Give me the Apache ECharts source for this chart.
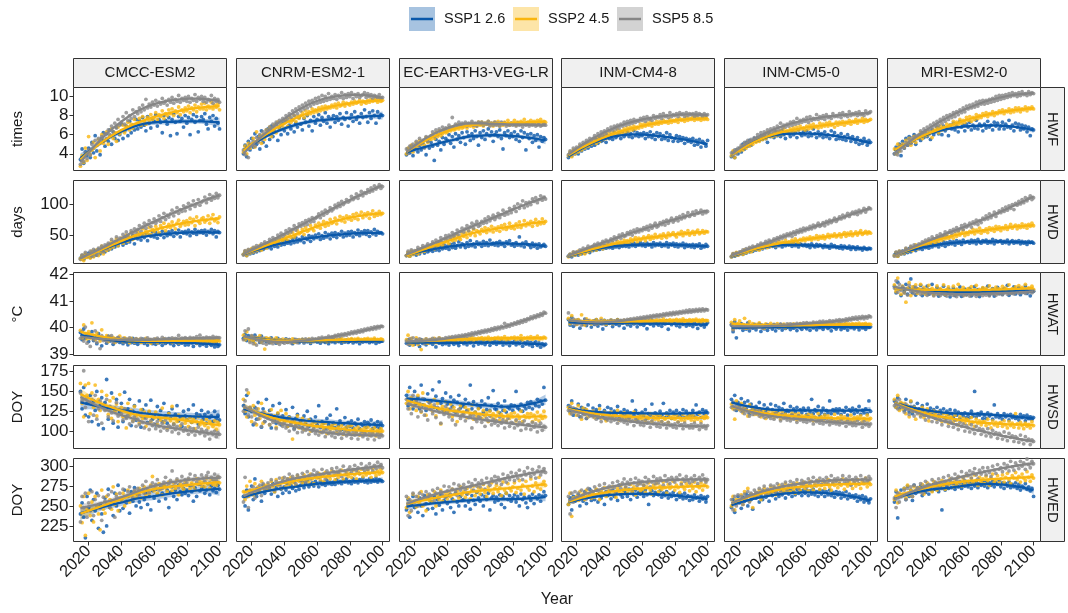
<!DOCTYPE html>
<html><head><meta charset="utf-8">
<script src="https://cdn.jsdelivr.net/npm/echarts@6.0.0/dist/echarts.min.js"></script>
<style>html,body{margin:0;padding:0;background:#fff}#main{width:1068px;height:613px}</style>
</head><body><div id="main"></div>
<script>
// ---------------- DATA ----------------
const years = [2015,2016,2017,2018,2019,2020,2021,2022,2023,2024,2025,2026,2027,2028,2029,2030,2031,2032,2033,2034,2035,2036,2037,2038,2039,2040,2041,2042,2043,2044,2045,2046,2047,2048,2049,2050,2051,2052,2053,2054,2055,2056,2057,2058,2059,2060,2061,2062,2063,2064,2065,2066,2067,2068,2069,2070,2071,2072,2073,2074,2075,2076,2077,2078,2079,2080,2081,2082,2083,2084,2085,2086,2087,2088,2089,2090,2091,2092,2093,2094,2095,2096,2097,2098,2099,2100];
const models = ['CMCC-ESM2','CNRM-ESM2-1','EC-EARTH3-VEG-LR','INM-CM4-8','INM-CM5-0','MRI-ESM2-0'];
const indices = ['HWF','HWD','HWAT','HWSD','HWED'];
const yTitles = ['times','days','°C','DOY','DOY'];
const scenarios = ['SSP1 2.6','SSP2 4.5','SSP5 8.5'];
const xTickValues = [2020,2040,2060,2080,2100];
const yTickValues = [[4,6,8,10],[50,100],[39,40,41,42],[100,125,150,175],[225,250,275,300]];
const yLimits = [[2.25,10.94],[5.3,138.7],[38.96,42.06],[78.1,182.6],[205.4,309.6]];

// HWF (times)
const hwf_cmcc_126 = [3.4,4.5,3.0,4.2,3.8, 4.6,3.6,5.2,4.1,5.9,4.3,5.1,3.9,5.6,6.2, 4.8,6.1,5.3,6.5,5.0,6.3,5.6,6.8,5.4,6.0, 7.1,5.6,6.4,6.9,5.9,7.4,6.2,7.0,6.5,7.6, 6.6,7.5,6.8,7.8,7.0,6.4,7.9,7.2,6.7,7.7, 7.4,8.1,6.9,7.6,7.3,6.2,8.0,7.5,7.1,7.8, 5.9,7.6,8.2,7.3,6.1,7.9,7.4,7.7,6.8,8.0, 7.2,7.8,6.0,7.6,8.1,7.3,7.9,6.3,7.5,7.9, 7.6,8.2,7.1,6.6,7.8,7.4,8.0,6.9,7.7,7.2, 6.6];
const hwf_cmcc_245 = [2.7,3.8,3.1,4.6,3.3, 5.8,3.9,4.4,5.2,3.6,4.9,5.5,4.3,6.0,5.1, 5.4,6.3,5.0,5.9,6.6,5.6,6.2,5.3,6.8,6.1, 6.4,7.0,6.2,6.9,7.3,6.5,7.1,6.7,7.6,7.0, 7.2,7.7,7.0,7.9,7.4,7.1,7.8,7.5,8.1,7.6, 7.8,8.3,7.6,8.1,7.9,8.5,7.7,8.2,8.0,8.6, 8.2,8.7,8.0,8.5,8.3,8.9,8.1,8.6,8.4,8.8, 8.5,9.0,8.3,8.8,8.6,9.1,8.4,8.9,8.7,9.2, 8.7,9.3,8.6,9.0,8.8,9.4,8.7,9.1,8.9,9.2, 8.6];
const hwf_cmcc_585 = [2.9,3.6,3.2,4.1,3.5, 4.4,3.9,5.0,4.6,5.4,4.9,5.6,5.1,5.8,5.3, 6.1,5.6,6.5,6.0,6.9,6.3,7.2,6.7,7.6,7.0, 7.3,7.9,7.1,8.3,7.5,8.0,7.7,8.6,7.9,8.4, 8.2,8.8,8.4,9.1,8.6,9.7,8.8,9.2,8.9,9.4, 9.1,9.6,9.0,9.4,9.2,9.8,9.3,9.5,9.1,9.7, 9.4,9.9,9.3,9.7,9.5,10.1,9.4,9.8,9.6,9.9, 9.5,10.0,9.4,9.8,9.6,10.2,9.5,9.9,9.7,10.0, 9.5,9.9,9.4,9.7,9.6,10.1,9.3,9.8,9.5,9.7, 9.4];
const hwf_cnrm_126 = [4.0,4.9,3.7,5.3,4.4, 5.6,4.7,6.1,5.0,5.8,4.5,6.4,5.2,6.0,4.8, 6.6,5.5,6.9,5.8,6.3,7.1,5.4,6.7,6.0,7.2, 6.4,7.4,6.1,7.0,6.6,7.6,6.3,7.2,6.8,7.8, 7.1,6.5,7.7,7.3,8.0,6.9,7.5,6.4,7.9,7.2, 7.6,8.1,7.0,7.8,7.4,8.3,7.2,7.9,6.8,7.7, 8.0,7.3,7.9,7.5,8.2,7.1,7.8,7.6,8.3,6.9, 7.7,8.1,7.4,8.4,7.6,7.9,7.2,8.2,7.8,8.6, 7.9,7.3,8.3,7.7,8.5,8.0,7.2,8.4,7.8,8.1, 8.0];
const hwf_cnrm_245 = [4.2,4.8,4.0,5.1,4.6, 5.0,5.6,4.7,6.3,5.3,5.9,5.1,6.0,5.5,6.5, 6.0,6.8,5.8,6.4,7.0,6.2,7.3,6.6,7.1,6.9, 7.2,7.6,6.9,7.8,7.3,7.5,8.0,7.4,7.9,7.7, 8.0,8.3,7.8,8.5,8.1,8.4,8.2,8.7,8.3,8.6, 8.4,8.8,8.5,8.9,8.6,9.0,8.7,8.9,8.8,9.1, 8.9,9.2,8.8,9.3,9.0,9.1,9.4,9.0,9.3,9.2, 9.1,9.4,9.2,9.5,9.3,9.4,9.6,9.2,9.5,9.4, 9.3,9.6,9.4,9.7,9.5,9.6,9.8,9.4,9.7,9.5, 9.6];
const hwf_cnrm_585 = [4.4,3.9,4.7,3.6,5.0, 4.9,5.3,4.8,5.7,5.2,6.0,5.5,6.3,5.8,6.5, 6.2,6.8,6.4,7.1,6.7,7.3,6.9,7.5,7.0,7.7, 7.4,8.0,7.6,8.2,7.8,8.5,8.0,8.7,8.2,8.9, 8.5,9.1,8.7,9.3,8.8,9.5,9.0,9.6,9.2,9.8, 9.3,9.9,9.4,10.1,9.5,10.0,9.6,10.3,9.7,10.0, 9.8,10.2,9.7,10.1,9.9,10.4,9.8,10.2,9.9,10.3, 10.0,10.4,9.8,10.2,10.0,10.3,9.9,10.1,10.2,10.4, 9.9,10.3,10.0,10.2,9.8,10.1,10.0,9.9,10.2,9.8, 9.9];
const hwf_ec_126 = [3.9,4.5,4.1,4.8,3.8, 4.6,5.0,4.2,4.9,4.4,5.1,4.7,3.9,5.3,4.6, 5.2,4.8,3.3,5.5,4.9,5.3,4.4,5.7,5.0,5.6, 5.4,6.0,5.1,5.8,4.7,6.1,5.5,5.9,5.2,6.2, 5.7,5.0,6.3,5.9,5.4,6.1,5.6,6.4,5.8,4.9, 6.2,5.7,6.4,5.5,6.1,6.6,5.9,6.3,5.3,6.0, 6.3,5.8,6.5,5.6,4.5,6.2,5.9,6.4,5.7,6.1, 5.8,6.3,5.5,6.0,5.3,6.4,5.7,6.2,4.4,6.0, 5.6,6.1,5.2,5.9,5.4,6.0,4.7,5.8,5.3,5.7, 5.5];
const hwf_ec_245 = [4.0,4.6,4.3,4.9,4.2, 4.8,5.2,4.6,5.4,5.0,5.3,4.9,5.7,5.2,5.6, 5.5,6.0,5.6,6.2,5.8,6.4,5.9,6.1,6.5,6.2, 6.3,6.7,6.4,6.8,6.5,6.6,7.0,6.6,6.9,6.7, 6.8,7.1,6.7,7.0,6.9,7.2,6.8,7.1,6.9,7.3, 7.0,7.3,6.9,7.2,7.1,7.4,7.0,7.2,6.9,7.3, 7.1,7.4,6.9,7.2,7.0,7.3,7.1,7.5,7.0,7.2, 7.2,7.5,7.0,7.3,7.1,7.4,7.2,7.6,7.1,7.3, 7.3,7.5,7.1,7.4,7.2,7.5,7.3,7.6,7.2,7.4, 7.3];
const hwf_ec_585 = [4.5,4.1,4.8,4.4,5.0, 4.7,5.3,4.9,5.6,5.1,5.4,4.6,5.8,5.3,5.7, 5.9,6.3,5.8,6.5,6.0,6.6,6.2,6.8,6.4,6.7, 6.6,7.0,6.7,7.8,6.8,7.1,6.9,7.3,7.0,7.2, 7.0,7.3,6.9,7.2,7.1,7.4,7.0,7.2,6.9,7.3, 7.1,7.3,7.0,7.2,7.1,7.4,6.9,7.2,7.0,7.3, 7.0,7.2,6.9,7.3,7.1,7.2,6.9,7.1,7.0,7.2, 7.0,7.1,6.9,7.2,7.0,7.1,6.8,7.1,7.0,7.2, 6.9,7.1,7.0,7.2,6.9,7.0,7.1,6.9,7.0,7.1, 7.0];
const hwf_inm4_126 = [3.6,4.1,3.8,4.3,4.0, 4.4,4.0,4.7,4.3,4.9,4.5,5.1,4.6,5.0,4.8, 5.2,4.9,5.5,5.1,5.7,5.3,5.4,5.8,5.2,5.9, 5.6,6.0,5.5,6.2,5.7,5.9,6.1,5.6,6.3,5.8, 6.0,6.3,5.8,6.1,5.7,6.4,5.9,6.2,5.8,6.1, 5.9,6.2,5.6,6.1,5.8,6.3,5.7,6.0,5.5,6.2, 5.8,6.1,5.5,5.9,5.6,6.2,5.4,6.0,5.7,5.3, 5.6,5.9,5.3,5.8,5.4,5.7,5.1,5.6,5.3,5.5, 5.2,5.6,4.9,5.4,5.0,5.5,4.7,5.3,5.1,4.8, 5.4];
const hwf_inm4_245 = [3.8,4.2,3.7,4.4,4.0, 4.5,4.2,4.8,4.4,4.9,4.6,5.1,4.8,5.3,5.0, 5.2,5.5,5.1,5.7,5.3,5.8,5.5,6.0,5.6,6.1, 5.8,6.2,5.9,6.3,6.0,6.5,6.1,6.4,6.2,6.6, 6.3,6.7,6.4,6.8,6.5,6.9,6.6,6.8,6.7,7.1, 6.8,7.1,6.9,7.2,7.0,7.3,6.9,7.2,7.1,7.4, 7.1,7.4,7.2,7.5,7.3,7.4,7.2,7.6,7.3,7.5, 7.4,7.6,7.3,7.7,7.5,7.6,7.4,7.8,7.5,7.7, 7.6,7.8,7.5,7.9,7.6,7.7,7.5,7.9,7.6,7.8, 7.6];
const hwf_inm4_585 = [3.9,4.3,4.0,4.6,4.2, 4.7,4.4,5.0,4.7,5.2,4.9,5.4,5.1,5.6,5.3, 5.6,5.9,5.5,6.1,5.8,6.3,5.9,6.4,6.1,6.6, 6.4,6.8,6.5,6.9,6.6,7.0,6.7,7.1,6.9,7.3, 7.0,7.4,7.1,7.5,7.2,7.6,7.3,7.5,7.4,7.7, 7.5,7.8,7.4,7.9,7.6,7.7,7.5,8.0,7.7,7.9, 7.8,8.1,7.7,8.2,7.9,8.0,7.8,8.3,7.9,8.1, 8.0,8.2,7.9,8.3,8.1,8.2,7.9,8.3,8.0,8.2, 8.1,8.2,7.9,8.3,8.0,8.2,8.1,7.9,8.2,8.0, 8.1];
const hwf_inm5_126 = [3.7,4.2,3.6,4.4,4.0, 4.6,4.2,5.0,4.5,5.2,4.8,5.4,4.9,5.3,5.6, 5.3,5.7,5.4,5.9,5.5,6.0,5.6,5.2,6.1,5.8, 6.0,5.7,6.3,5.9,6.2,5.8,6.4,6.0,5.6,6.3, 6.1,5.8,6.4,6.0,6.2,5.7,6.5,6.1,5.9,6.3, 6.0,6.4,5.8,6.2,5.9,6.6,6.1,5.7,6.3,5.9, 6.1,5.7,6.3,5.8,6.0,5.6,6.4,5.9,6.2,5.5, 5.9,5.6,6.1,5.5,5.8,5.4,6.0,5.7,5.3,5.8, 5.5,5.2,5.7,5.0,5.4,5.1,5.6,5.3,4.9,5.4, 5.2];
const hwf_inm5_245 = [3.8,4.3,3.6,4.1,4.4, 4.3,4.7,4.4,4.9,4.6,5.1,4.8,5.3,5.0,5.4, 5.2,5.6,5.3,5.8,5.5,5.9,5.6,6.2,5.8,6.0, 5.8,6.2,5.9,6.3,6.0,6.4,6.1,6.6,6.2,6.4, 6.2,6.6,6.3,6.7,6.4,6.8,6.5,6.9,6.6,6.7, 6.5,6.9,6.6,7.0,6.7,7.1,6.8,6.9,6.7,7.2, 6.8,7.1,6.9,7.2,6.9,7.3,7.0,7.1,6.8,7.3, 7.0,7.3,7.1,7.4,7.0,7.3,7.2,7.5,7.1,7.4, 7.3,7.6,7.2,7.5,7.4,7.7,7.3,7.6,7.4,7.5, 7.6];
const hwf_inm5_585 = [4.1,3.8,4.4,4.0,4.6, 4.5,4.9,4.6,5.2,4.8,5.4,5.0,5.5,5.3,5.7, 5.5,6.0,5.7,6.2,5.9,6.3,6.0,6.5,6.2,6.6, 6.3,6.7,6.4,6.9,6.5,7.2,6.7,7.0,6.8,7.1, 6.9,7.3,7.0,7.4,7.1,7.7,7.2,7.5,7.3,7.6, 7.4,7.8,7.3,7.9,7.5,7.7,7.6,8.1,7.6,7.9, 7.7,8.0,7.6,8.1,7.8,7.9,7.7,8.2,7.9,8.0, 7.9,8.2,7.8,8.3,8.0,8.1,7.9,8.4,8.0,8.2, 8.1,8.3,8.0,8.4,8.1,8.2,8.0,8.5,8.2,8.3, 8.4];
const hwf_mri_126 = [4.0,4.7,4.2,5.0,3.8, 5.3,4.6,5.6,4.9,5.8,5.1,5.4,6.0,5.0,5.7, 5.9,5.4,6.2,5.7,6.4,5.8,6.1,5.5,6.5,6.0, 6.3,6.8,6.1,6.6,6.0,6.9,6.4,6.7,5.9,7.0, 6.6,7.2,6.5,6.9,6.3,7.4,6.8,7.0,6.4,7.1, 6.8,7.3,6.5,7.0,6.7,7.5,6.6,7.1,6.9,6.4, 7.1,6.7,7.4,6.8,7.0,6.5,7.3,6.9,7.2,6.6, 6.9,7.3,6.6,7.1,6.8,7.5,6.7,7.0,6.4,7.2, 6.8,7.1,6.5,7.0,6.6,6.9,6.3,6.8,5.9,6.6, 6.5];
const hwf_mri_245 = [4.5,4.0,5.0,4.3,4.8, 5.0,4.7,5.4,5.1,5.6,4.9,5.3,5.8,5.2,5.7, 5.8,6.2,5.6,6.1,5.9,6.4,6.0,6.3,5.7,6.5, 6.4,6.7,6.2,6.9,6.5,6.8,6.6,7.1,6.7,7.0, 7.0,7.4,6.9,7.3,7.1,7.6,7.2,7.5,7.3,7.8, 7.5,7.9,7.4,7.8,7.6,8.1,7.7,8.0,7.8,8.2, 8.0,8.3,7.9,8.2,8.1,8.4,8.0,8.3,8.2,8.5, 8.3,8.6,8.2,8.5,8.4,8.7,8.3,8.6,8.4,8.8, 8.5,8.8,8.4,8.7,8.6,8.9,8.5,8.8,8.7,8.9, 8.7];
const hwf_mri_585 = [4.0,4.5,3.9,4.7,4.3, 4.9,4.6,5.2,4.9,5.5,5.1,5.7,5.4,5.9,5.6, 6.0,6.4,6.1,6.6,6.2,6.8,6.5,7.0,6.7,7.2, 6.9,7.4,7.0,7.6,7.2,7.8,7.4,8.0,7.6,8.1, 7.8,8.3,7.9,8.4,8.1,8.6,8.3,8.8,8.4,9.0, 8.7,9.1,8.8,9.2,8.9,9.4,9.0,9.5,9.2,9.6, 9.2,9.6,9.3,9.7,9.4,9.8,9.5,10.0,9.6,10.1, 9.7,10.1,9.8,10.2,9.9,10.3,10.0,10.4,10.1,10.3, 10.0,10.4,10.1,10.5,10.2,10.3,10.1,10.5,10.2,10.4, 10.3];

// HWD (days)
const hwd_cmcc_126 = [14,18,12,20,16, 22,15,24,17,26,19,28,21,25,30, 24,33,27,36,29,38,32,41,34,39, 43,35,46,38,48,40,44,50,37,47, 45,52,43,50,47,54,42,51,49,56, 48,55,46,53,51,57,47,54,50,56, 52,58,49,55,53,59,48,56,54,57, 53,59,50,56,54,60,52,57,55,58, 54,59,51,57,55,60,53,58,48,57, 55];
const hwd_cmcc_245 = [13,18,10,21,15, 19,14,25,16,22,27,18,24,33,21, 30,26,36,29,41,32,38,45,34,40, 46,38,43,51,41,48,55,44,50,47, 56,49,53,61,50,58,54,63,52,60, 57,65,60,55,66,62,70,58,64,68, 63,72,66,61,70,75,65,69,73,67, 74,68,78,71,76,66,80,73,70,77, 79,72,75,82,70,78,84,74,77,71, 80];
const hwd_cmcc_585 = [12,19,14,23,17, 20,25,17,28,22,19,30,26,33,24, 35,29,38,33,44,36,41,48,39,46, 44,52,47,56,49,45,58,53,61,55, 60,66,57,64,70,62,68,74,65,71, 77,70,74,82,73,79,86,76,83,80, 85,91,82,88,95,86,92,89,98,90, 96,102,93,99,106,97,101,108,99,104, 106,112,103,109,116,107,113,110,118,111, 115];
const hwd_cnrm_126 = [20,24,18,25,21, 27,22,29,24,31,26,33,28,30,35, 31,37,29,36,33,40,32,38,35,42, 36,43,38,41,37,45,39,47,40,44, 42,48,39,46,44,50,41,49,45,51, 47,53,44,50,46,55,48,52,45,54, 49,55,47,53,51,57,48,54,50,56, 51,57,48,55,52,59,50,56,53,58, 52,58,49,56,53,60,51,57,54,55, 53];
const hwd_cnrm_245 = [20,25,18,27,22, 29,24,31,26,28,34,27,32,36,30, 33,38,35,41,36,39,44,37,46,42, 45,49,43,52,47,55,48,51,58,53, 55,60,52,63,57,59,66,61,58,67, 64,70,62,68,73,65,71,67,76,70, 72,78,69,75,81,74,79,72,82,77, 80,75,84,78,86,76,83,88,79,85, 82,87,78,85,90,81,86,83,89,84, 86];
const hwd_cnrm_585 = [19,26,21,28,23, 27,31,25,34,29,33,37,30,40,35, 38,44,40,47,42,45,51,46,54,49, 52,58,54,61,56,60,66,59,63,69, 65,71,67,74,68,76,72,79,73,78, 80,85,79,88,83,91,86,89,95,90, 93,99,95,102,97,105,100,103,108,104, 106,113,108,111,117,110,115,121,114,119, 118,124,120,127,122,130,125,128,132,126, 129];
const hwd_ec_126 = [18,22,17,24,20, 23,19,27,21,25,30,22,28,24,26, 29,25,31,27,34,26,32,29,35,30, 33,28,36,31,38,30,34,40,32,37, 35,31,39,33,42,34,37,32,40,36, 38,33,41,35,39,34,43,36,38,35, 39,34,41,36,38,33,40,37,42,35, 37,33,39,35,48,34,38,32,40,36, 35,31,38,33,36,30,37,32,34,36, 33];
const hwd_ec_245 = [18,23,17,25,20, 22,26,21,28,24,30,25,27,33,28, 30,35,29,38,33,36,41,34,39,44, 40,37,45,42,48,43,51,46,44,53, 49,54,47,57,51,55,60,50,58,56, 53,60,57,63,55,61,58,65,56,62, 59,64,57,66,61,68,60,63,70,62, 65,61,69,64,72,63,67,74,66,70, 68,73,65,71,76,67,72,69,77,70, 73];
const hwd_ec_585 = [18,25,20,27,22, 26,23,31,25,29,34,27,33,37,31, 35,40,33,43,38,41,47,39,45,50, 44,51,47,55,49,53,59,51,57,62, 56,61,66,58,64,70,62,68,73,65, 67,73,70,77,71,80,74,78,83,76, 80,86,79,84,91,83,88,85,94,87, 92,97,89,101,94,99,106,95,103,98, 104,100,109,105,111,103,108,114,107,112, 109];
const hwd_inm4_126 = [17,20,16,21,19, 22,19,24,21,26,22,25,27,23,28, 26,30,27,32,28,31,29,33,30,34, 31,35,30,34,32,36,31,35,33,37, 33,36,32,37,34,38,33,36,35,39, 34,37,33,38,35,36,32,39,34,37, 35,38,33,36,34,39,32,37,35,38, 33,37,32,36,34,38,31,36,33,35, 32,36,31,35,33,37,30,34,32,36, 33];
const hwd_inm4_245 = [16,20,18,23,19, 22,25,20,26,23,21,28,24,30,26, 28,31,27,33,30,35,29,34,32,37, 33,36,39,34,38,41,35,40,37,43, 39,42,38,45,41,44,47,40,46,43, 45,48,42,47,50,44,49,46,52,47, 48,51,46,53,49,47,54,50,52,55, 51,48,54,52,57,50,55,53,58,51, 54,57,52,56,59,53,55,58,54,57, 56];
const hwd_inm4_585 = [17,20,18,24,21, 24,22,27,25,30,26,29,33,28,32, 33,36,32,38,35,37,41,36,43,40, 41,45,42,48,44,47,51,46,53,49, 50,55,52,57,51,59,55,61,56,60, 58,63,60,65,59,67,62,66,70,64, 66,71,68,73,67,75,70,74,78,72, 75,79,74,81,77,84,79,82,87,81, 84,88,83,90,86,87,91,85,89,87, 89];
const hwd_inm5_126 = [16,20,17,22,19, 21,24,20,26,22,27,24,28,25,30, 27,31,28,33,29,34,31,35,32,36, 33,35,31,37,34,36,32,38,34,36, 35,37,33,38,34,36,32,37,35,34, 36,33,35,31,37,34,32,36,33,35, 34,31,35,32,33,30,36,32,34,31, 32,30,34,29,33,31,30,33,28,32, 31,28,32,29,30,27,31,29,28,30, 29];
const hwd_inm5_245 = [16,21,18,23,19, 21,24,20,27,23,25,29,24,27,31, 28,32,27,34,30,33,36,31,35,33, 36,39,34,38,41,36,40,37,43,38, 40,37,43,39,45,41,38,44,42,46, 42,46,44,48,43,47,45,50,44,49, 46,50,45,48,52,47,51,49,53,48, 50,53,48,52,55,49,54,51,56,50, 53,56,51,55,58,52,54,57,53,56, 54];
const hwd_inm5_585 = [17,21,19,22,20, 24,22,27,25,29,27,31,28,33,30, 32,35,33,38,34,37,41,36,43,40, 41,45,42,47,44,49,46,51,48,53, 50,54,49,56,52,58,55,60,56,62, 58,62,60,65,61,67,63,66,70,65, 67,71,66,73,69,75,71,74,78,73, 76,80,77,83,79,82,86,81,85,88, 85,89,84,91,87,90,94,88,92,95, 93];
const hwd_mri_126 = [19,23,17,24,21, 25,21,27,23,29,24,28,31,26,30, 29,33,28,35,31,34,30,37,32,36, 34,38,32,37,35,40,33,39,36,41, 37,40,35,42,38,41,36,43,39,40, 41,38,43,39,42,37,44,40,38,42, 40,43,38,41,39,44,37,42,40,41, 42,38,41,39,43,37,40,42,38,41, 39,42,37,41,38,40,36,41,39,40, 38];
const hwd_mri_245 = [18,23,17,25,21, 24,22,29,25,27,32,26,30,35,29, 31,36,33,39,34,37,42,36,41,45, 38,44,41,47,43,49,45,51,46,48, 50,46,53,49,56,51,54,58,50,55, 52,57,55,60,53,59,56,62,54,58, 57,61,55,63,59,62,57,65,60,64, 58,63,61,66,60,64,68,62,65,67, 61,66,63,69,64,67,62,68,65,70, 66];
const hwd_mri_585 = [17,23,19,25,21, 25,23,30,26,28,33,29,35,31,34, 37,33,40,36,43,39,45,41,48,44, 45,50,47,53,48,51,56,49,55,58, 54,60,57,63,58,61,66,60,68,64, 66,70,64,72,69,75,68,74,71,78, 76,82,77,85,79,83,88,81,86,90, 87,93,89,96,91,98,94,100,92,102, 99,105,101,108,103,111,106,110,114,108, 111];

// HWAT (°C)
const hwat_cmcc_126 = [39.82,39.55,39.95,39.60,39.74, 39.48,39.70,39.85,39.52,39.66,39.40,39.78,39.58,39.32,39.63, 39.55,39.42,39.68,39.50,39.60,39.38,39.57,39.48,39.62,39.45, 39.52,39.40,39.58,39.46,39.36,39.55,39.44,39.60,39.42,39.50, 39.38,39.53,39.45,39.57,39.41,39.49,39.35,39.54,39.46,39.40, 39.50,39.38,39.55,39.43,39.48,39.34,39.52,39.41,39.47,39.58, 39.40,39.49,39.33,39.52,39.44,39.38,39.55,39.42,39.46,39.35, 39.48,39.36,39.52,39.43,39.30,39.50,39.41,39.46,39.33,39.49, 39.38,39.45,39.31,39.48,39.40,39.34,39.46,39.28,39.42,39.30, 39.36];
const hwat_cmcc_245 = [39.90,39.62,40.10,39.70,39.58, 39.85,39.60,40.18,39.72,39.55,39.80,39.66,39.50,39.92,39.62, 39.58,39.70,39.48,39.66,39.55,39.63,39.45,39.60,39.52,39.68, 39.55,39.48,39.62,39.50,39.57,39.44,39.60,39.52,39.47,39.58, 39.50,39.56,39.45,39.53,39.48,39.60,39.46,39.55,39.42,39.52, 39.48,39.57,39.44,39.53,39.50,39.46,39.58,39.47,39.54,39.49, 39.53,39.45,39.57,39.48,39.52,39.44,39.56,39.50,39.46,39.55, 39.49,39.54,39.45,39.58,39.47,39.52,39.43,39.56,39.50,39.53, 39.48,39.55,39.46,39.52,39.50,39.57,39.44,39.53,39.49,39.55, 39.50];
const hwat_cmcc_585 = [39.60,39.85,39.50,40.02,39.42, 39.75,39.30,39.68,39.55,39.88,39.45,39.62,39.22,39.70,39.52, 39.60,39.48,39.66,39.54,39.70,39.45,39.58,39.50,39.64,39.56, 39.52,39.60,39.47,39.57,39.53,39.62,39.49,39.55,39.51,39.59, 39.54,39.48,39.60,39.52,39.57,39.50,39.62,39.53,39.56,39.49, 39.58,39.52,39.61,39.55,39.50,39.64,39.54,39.59,39.52,39.60, 39.56,39.62,39.53,39.60,39.57,39.71,39.55,39.61,39.58,39.63, 39.59,39.55,39.64,39.57,39.62,39.54,39.66,39.58,39.72,39.60, 39.62,39.57,39.65,39.60,39.63,39.56,39.67,39.59,39.64,39.61, 39.62];
const hwat_cnrm_126 = [39.60,39.75,39.52,39.70,39.58, 39.66,39.50,39.72,39.55,39.62,39.45,39.68,39.53,39.60,39.48, 39.57,39.44,39.62,39.50,39.55,39.42,39.60,39.48,39.53,39.46, 39.52,39.58,39.45,39.55,39.49,39.40,39.56,39.47,39.53,39.44, 39.50,39.56,39.43,39.52,39.47,39.55,39.41,39.51,39.48,39.54, 39.46,39.52,39.42,39.55,39.49,39.45,39.53,39.40,39.50,39.47, 39.54,39.44,39.51,39.48,39.56,39.42,39.50,39.46,39.53,39.45, 39.49,39.55,39.43,39.51,39.47,39.54,39.40,39.50,39.46,39.52, 39.48,39.53,39.44,39.50,39.47,39.55,39.41,39.51,39.46,39.49, 39.50];
const hwat_cnrm_245 = [39.72,39.55,39.85,39.60,39.50, 39.68,39.52,39.40,39.63,39.55,39.70,39.46,39.58,39.20,39.62, 39.52,39.60,39.45,39.56,39.50,39.62,39.44,39.54,39.48,39.57, 39.50,39.55,39.46,39.53,39.49,39.58,39.45,39.52,39.47,39.55, 39.51,39.56,39.48,39.54,39.50,39.57,39.47,39.53,39.49,39.55, 39.52,39.57,39.49,39.55,39.51,39.58,39.48,39.54,39.50,39.56, 39.53,39.58,39.50,39.56,39.52,39.59,39.49,39.55,39.51,39.57, 39.54,39.59,39.51,39.57,39.53,39.60,39.50,39.56,39.52,39.58, 39.55,39.60,39.52,39.57,39.54,39.61,39.51,39.56,39.53,39.58, 39.55];
const hwat_cnrm_585 = [39.55,39.88,39.62,39.95,39.45, 39.70,39.40,39.65,39.35,39.58,39.48,39.62,39.42,39.55,39.38, 39.50,39.44,39.56,39.40,39.52,39.45,39.48,39.38,39.53,39.46, 39.42,39.52,39.46,39.55,39.43,39.50,39.48,39.56,39.44,39.53, 39.50,39.55,39.47,39.58,39.51,39.56,39.49,39.60,39.53,39.58, 39.55,39.62,39.57,39.65,39.58,39.63,39.60,39.68,39.62,39.66, 39.64,39.71,39.66,39.74,39.68,39.76,39.70,39.78,39.72,39.80, 39.76,39.84,39.78,39.86,39.80,39.89,39.83,39.92,39.85,39.94, 39.90,39.97,39.92,40.00,39.94,40.03,39.96,40.05,39.99,40.06, 40.04];
const hwat_ec_126 = [39.42,39.55,39.35,39.50,39.44, 39.38,39.52,39.46,39.30,39.55,39.41,39.48,39.36,39.50,39.43, 39.52,39.38,39.47,39.28,39.50,39.42,39.55,39.37,39.46,39.40, 39.48,39.35,39.52,39.44,39.38,39.50,39.42,39.33,39.47,39.51, 39.40,39.46,39.36,39.52,39.43,39.48,39.32,39.45,39.50,39.39, 39.47,39.41,39.53,39.37,39.45,39.49,39.34,39.46,39.42,39.51, 39.38,39.47,39.43,39.52,39.35,39.46,39.40,39.49,39.33,39.45, 39.42,39.50,39.36,39.46,39.40,39.53,39.31,39.44,39.39,39.48, 39.36,39.45,39.30,39.42,39.47,39.34,39.43,39.27,39.40,39.33, 39.38];
const hwat_ec_245 = [39.55,39.72,39.40,39.60,39.35, 39.48,39.62,39.38,39.55,39.18,39.52,39.45,39.58,39.42,39.50, 39.56,39.47,39.60,39.44,39.53,39.62,39.49,39.57,39.46,39.55, 39.58,39.50,39.63,39.52,39.56,39.48,39.61,39.55,39.59,39.51, 39.57,39.62,39.53,39.60,39.55,39.64,39.52,39.59,39.56,39.61, 39.58,39.63,39.55,39.61,39.57,39.65,39.54,39.60,39.58,39.62, 39.59,39.64,39.56,39.62,39.58,39.66,39.55,39.61,39.57,39.63, 39.60,39.65,39.56,39.63,39.58,39.70,39.55,39.62,39.59,39.64, 39.58,39.66,39.57,39.63,39.60,39.68,39.56,39.62,39.59,39.65, 39.61];
const hwat_ec_585 = [39.50,39.38,39.58,39.44,39.62, 39.46,39.55,39.42,39.58,39.48,39.53,39.40,39.57,39.50,39.55, 39.52,39.60,39.48,39.57,39.53,39.61,39.50,39.58,39.55,39.63, 39.57,39.65,39.58,39.66,39.60,39.68,39.62,39.70,39.64,39.72, 39.66,39.74,39.68,39.77,39.71,39.80,39.73,39.82,39.76,39.85, 39.79,39.88,39.82,39.91,39.84,39.93,39.87,39.96,39.90,40.00, 39.93,40.02,39.96,40.05,39.99,40.16,40.02,40.10,40.05,40.14, 40.10,40.18,40.13,40.22,40.16,40.26,40.20,40.30,40.24,40.34, 40.30,40.40,40.34,40.44,40.38,40.48,40.42,40.52,40.46,40.58, 40.54];
const hwat_inm4_126 = [40.30,40.10,40.38,40.05,40.22, 40.15,40.28,39.98,40.22,40.12,40.32,40.08,40.25,40.18,40.02, 40.24,40.12,40.30,40.06,40.20,40.15,39.95,40.27,40.10,40.22, 40.16,40.28,40.04,40.21,40.13,40.30,40.08,40.24,40.17,39.98, 40.22,40.11,40.27,40.06,40.19,40.14,40.29,40.03,40.20,40.12, 40.25,40.09,40.18,39.96,40.22,40.13,40.27,40.07,40.19,40.15, 40.10,40.24,40.05,40.20,40.14,40.26,39.94,40.18,40.11,40.22, 40.16,40.08,40.23,40.03,40.19,40.12,40.25,40.06,40.17,40.10, 40.21,40.04,40.18,40.12,39.97,40.20,40.09,40.15,40.02,40.13, 40.18];
const hwat_inm4_245 = [40.35,40.15,40.45,40.20,40.28, 40.12,40.30,40.18,40.48,40.22,40.10,40.33,40.20,40.27,40.14, 40.25,40.18,40.30,40.16,40.23,40.35,40.19,40.26,40.13,40.24, 40.20,40.28,40.15,40.25,40.21,40.30,40.17,40.24,40.19,40.27, 40.22,40.16,40.29,40.20,40.25,40.18,40.31,40.21,40.26,40.19, 40.24,40.30,40.20,40.27,40.22,40.32,40.21,40.26,40.23,40.29, 40.21,40.28,40.24,40.33,40.22,40.27,40.25,40.30,40.20,40.28, 40.26,40.31,40.22,40.29,40.24,40.33,40.23,40.27,40.25,40.30, 40.22,40.29,40.26,40.32,40.24,40.28,40.21,40.30,40.25,40.27, 40.26];
const hwat_inm4_585 = [40.55,40.25,40.18,40.32,40.12, 40.28,40.15,40.24,40.10,40.22,40.30,40.14,40.26,40.18,40.21, 40.16,40.25,40.12,40.23,40.19,40.27,40.14,40.22,40.18,40.24, 40.20,40.26,40.17,40.25,40.21,40.28,40.19,40.27,40.23,40.29, 40.24,40.31,40.26,40.33,40.27,40.35,40.29,40.36,40.31,40.38, 40.33,40.40,40.35,40.42,40.36,40.44,40.38,40.46,40.40,40.48, 40.41,40.49,40.43,40.51,40.45,40.53,40.47,40.55,40.48,40.57, 40.50,40.58,40.52,40.60,40.54,40.62,40.56,40.64,40.57,40.66, 40.58,40.66,40.60,40.68,40.61,40.69,40.62,40.70,40.63,40.68, 40.66];
const hwat_inm5_126 = [40.10,39.85,40.22,39.62,40.08, 40.00,40.15,39.90,40.08,39.95,40.18,39.88,40.05,39.98,40.12, 39.92,40.06,40.14,39.86,40.03,39.96,40.10,39.90,40.02,40.08, 39.95,40.09,39.88,40.04,39.99,40.12,39.91,40.06,39.97,40.01, 40.07,39.93,40.11,39.98,40.04,39.89,40.08,40.00,39.94,40.10, 40.02,39.96,40.13,39.90,40.06,39.99,40.09,39.92,40.04,40.00, 40.08,39.94,40.05,40.11,39.97,40.03,39.88,40.07,40.01,39.95, 40.06,40.12,39.93,40.04,39.98,40.09,39.91,40.05,40.00,40.10, 39.96,40.07,40.02,39.92,40.08,39.99,40.04,39.94,40.06,40.01, 40.03];
const hwat_inm5_245 = [40.20,39.95,40.30,40.05,40.15, 40.25,40.02,40.12,40.35,39.98,40.10,40.22,40.04,40.15,40.08, 40.12,40.03,40.18,40.06,40.10,39.98,40.14,40.05,40.09,40.16, 40.04,40.11,40.07,40.15,40.02,40.10,40.06,40.13,40.00,40.09, 40.12,40.05,40.09,40.14,40.03,40.10,40.07,40.15,40.04,40.11, 40.08,40.13,40.05,40.11,40.09,40.16,40.06,40.12,40.08,40.14, 40.07,40.12,40.10,40.17,40.06,40.13,40.09,40.15,40.08,40.12, 40.10,40.16,40.07,40.13,40.11,40.18,40.08,40.14,40.10,40.15, 40.09,40.15,40.11,40.17,40.08,40.14,40.12,40.16,40.10,40.13, 40.12];
const hwat_inm5_585 = [40.12,39.92,40.15,40.00,40.08, 40.03,40.10,39.98,40.08,40.01,40.12,39.97,40.06,40.02,40.09, 40.00,40.08,40.03,40.10,39.98,40.07,40.04,40.11,40.01,40.06, 40.05,40.12,40.03,40.09,40.06,40.13,40.04,40.10,40.07,40.14, 40.08,40.14,40.06,40.12,40.10,40.16,40.08,40.15,40.11,40.18, 40.12,40.19,40.11,40.17,40.14,40.21,40.13,40.20,40.16,40.23, 40.17,40.24,40.16,40.22,40.19,40.26,40.18,40.25,40.21,40.28, 40.23,40.30,40.22,40.29,40.25,40.33,40.27,40.35,40.29,40.37, 40.32,40.39,40.31,40.40,40.34,40.42,40.33,40.41,40.36,40.44, 40.40];
const hwat_mri_126 = [41.55,41.30,41.70,41.45,41.20, 41.50,41.35,41.62,41.25,41.48,41.82,41.30,41.52,41.22,41.45, 41.38,41.58,41.20,41.44,41.30,41.55,41.25,41.40,41.62,41.28, 41.35,41.50,41.18,41.42,41.28,41.55,41.22,41.38,41.46,41.15, 41.33,41.48,41.20,41.40,41.26,41.52,41.17,41.36,41.44,41.24, 41.30,41.47,41.19,41.38,41.53,41.25,41.42,41.16,41.35,41.48, 41.28,41.40,41.55,41.22,41.37,41.46,41.18,41.34,41.50,41.27, 41.39,41.24,41.47,41.33,41.58,41.21,41.41,41.30,41.52,41.26, 41.38,41.49,41.23,41.42,41.33,41.56,41.28,41.45,41.19,41.40, 41.36];
const hwat_mri_245 = [41.60,41.35,41.85,41.42,41.25, 41.55,41.30,40.95,41.48,41.68,41.20,41.52,41.38,41.60,41.28, 41.45,41.62,41.30,41.50,41.25,41.44,41.58,41.33,41.47,41.22, 41.40,41.56,41.28,41.46,41.35,41.60,41.24,41.42,41.52,41.30, 41.37,41.55,41.26,41.44,41.62,41.31,41.40,41.50,41.23,41.38, 41.46,41.29,41.53,41.35,41.41,41.58,41.27,41.43,41.34,41.49, 41.32,41.47,41.38,41.56,41.30,41.44,41.36,41.51,41.29,41.45, 41.39,41.54,41.33,41.48,41.42,41.60,41.31,41.46,41.37,41.52, 41.41,41.57,41.35,41.50,41.44,41.62,41.38,41.48,41.40,41.55, 41.43];
const hwat_mri_585 = [41.48,41.75,41.32,41.62,41.40, 41.52,41.30,41.45,41.22,41.58,41.35,41.42,41.28,41.50,41.33, 41.38,41.25,41.44,41.30,41.36,41.21,41.41,41.27,41.35,41.19, 41.32,41.24,41.39,41.20,41.31,41.26,41.36,41.18,41.29,41.23, 41.33,41.21,41.28,41.16,41.30,41.25,41.35,41.19,41.27,41.22, 41.31,41.18,41.26,41.23,41.34,41.17,41.29,41.24,41.32,41.20, 41.28,41.22,41.35,41.19,41.30,41.26,41.33,41.21,41.31,41.27, 41.34,41.23,41.30,41.37,41.25,41.32,41.28,41.38,41.26,41.33, 41.36,41.29,41.40,41.31,41.35,41.28,41.39,41.33,41.37,41.30, 41.36];

// HWSD (DOY)
const hwsd_cmcc_126 = [150,128,155,120,135, 118,145,112,138,126,150,108,132,142,103, 136,165,115,130,148,110,127,140,105,124, 135,112,149,118,128,140,107,125,132,114, 122,138,105,127,117,133,111,124,139,115, 120,108,131,116,126,112,135,119,110,123, 116,128,109,121,132,113,118,106,125,119, 114,127,118,111,133,117,122,109,120,126, 115,121,110,124,117,119,112,125,116,120, 114];
const hwsd_cmcc_245 = [160,135,118,158,145, 160,122,148,130,158,119,140,126,150,132, 128,145,121,138,116,142,125,134,112,146, 130,118,128,104,135,120,126,113,131,119, 122,110,127,116,124,106,119,125,112,121, 117,124,108,120,114,129,111,118,104,122, 113,131,109,117,112,120,107,115,118,110, 114,106,117,111,115,103,112,118,108,113, 110,107,115,104,112,109,106,113,102,111, 108];
const hwsd_cmcc_585 = [148,138,176,130,142, 112,135,140,120,145,115,128,138,110,132, 126,140,118,131,123,113,129,136,119,127, 122,114,128,116,120,109,124,112,118,106, 115,108,119,111,104,116,110,102,113,107, 109,103,112,106,100,110,104,114,101,107, 105,99,108,102,106,97,103,109,100,104, 101,96,104,99,103,95,100,105,97,102, 99,94,101,97,90,98,96,100,93,98, 96];
const hwsd_cnrm_126 = [132,122,145,118,128, 125,108,130,115,136,120,105,128,112,140, 118,126,104,132,115,110,122,135,108,119, 114,127,106,118,111,130,103,116,121,109, 113,104,119,109,125,106,115,101,112,118, 108,132,105,112,110,103,116,108,120,106, 110,104,128,107,113,102,109,117,105,111, 106,113,104,110,108,115,103,109,107,112, 105,111,108,114,103,109,106,112,104,110, 107];
const hwsd_cnrm_245 = [140,125,118,148,130, 112,132,120,108,128,116,135,110,124,118, 121,108,127,114,119,105,123,111,126,109, 115,122,106,117,111,90,113,108,119,104, 110,116,102,112,107,114,100,109,105,111, 106,112,99,108,103,110,97,105,102,107, 103,109,98,105,101,107,96,104,100,106, 101,107,96,103,99,105,95,102,98,104, 100,105,95,102,98,104,94,101,97,103, 100];
const hwsd_cnrm_585 = [125,138,152,120,130, 118,125,110,128,115,121,106,124,112,119, 116,108,120,111,117,103,114,109,118,106, 111,104,115,100,108,112,102,107,98,110, 105,99,108,101,104,96,107,100,103,97, 101,95,104,98,100,93,102,97,99,94, 98,92,101,96,99,91,97,100,94,98, 97,91,99,95,98,90,96,99,93,97, 96,90,98,94,97,89,95,98,92,96, 94];
const hwsd_ec_126 = [145,132,155,138,128, 150,135,142,128,158,133,140,126,147,136, 138,152,130,144,128,162,135,141,125,148, 134,127,143,131,139,124,136,145,129,133, 131,140,126,135,158,128,137,124,133,129, 130,138,124,134,127,142,126,132,151,128, 127,135,123,131,126,138,124,130,128,133, 126,132,150,129,127,134,125,131,128,136, 130,137,128,135,132,140,131,138,134,155, 139];
const hwsd_ec_245 = [135,150,128,142,132, 140,126,145,131,124,148,133,120,138,129, 133,125,140,119,135,128,109,131,126,137, 128,122,134,118,130,125,112,127,132,120, 124,130,117,127,121,133,115,124,119,128, 121,116,126,119,123,112,125,118,122,115, 119,124,114,121,117,126,113,120,116,122, 118,123,113,120,116,125,112,119,117,122, 117,122,112,120,115,124,113,119,116,125, 118];
const hwsd_ec_585 = [140,128,135,122,145, 132,138,118,135,125,141,120,130,114,136, 128,122,133,117,130,124,110,127,121,131, 124,118,128,114,125,108,122,127,116,120, 121,113,125,117,119,104,120,115,112,118, 117,111,121,106,116,113,119,108,115,110, 113,107,118,110,114,104,112,116,106,111, 110,104,114,107,111,101,109,113,103,108, 108,102,111,105,109,99,107,110,101,106, 105];
const hwsd_inm4_126 = [132,124,138,120,128, 126,134,118,130,122,128,116,133,124,120, 129,121,127,117,132,123,119,126,115,130, 122,128,118,125,120,131,116,124,121,127, 119,125,117,123,138,120,126,115,122,118, 124,119,127,116,122,120,134,117,123,121, 118,125,120,135,117,123,119,126,116,124, 121,126,118,123,120,127,117,125,119,122, 120,126,118,133,121,124,117,127,122,125, 123];
const hwsd_inm4_245 = [130,122,135,125,128, 120,132,126,115,129,121,127,118,124,122, 125,117,123,119,128,116,121,124,113,122, 118,124,116,121,119,126,114,120,117,123, 116,121,114,119,117,124,113,118,116,120, 115,121,113,118,116,122,112,119,115,120, 114,120,112,117,115,121,111,118,116,119, 115,120,112,117,114,121,113,118,116,119, 114,120,113,117,115,122,112,118,116,119, 117];
const hwsd_inm4_585 = [126,131,122,129,124, 127,120,125,118,123,121,116,124,119,122, 118,123,115,120,117,112,121,116,119,114, 117,112,119,114,116,110,118,113,115,111, 114,109,116,112,113,107,115,111,112,108, 112,107,114,110,111,105,113,109,110,106, 110,105,112,108,109,104,111,107,108,105, 109,104,111,107,108,103,110,106,107,104, 108,104,110,106,107,102,109,105,107,103, 107];
const hwsd_inm5_126 = [140,130,145,126,136, 132,141,125,136,128,138,122,134,130,126, 131,124,136,127,121,133,126,129,119,134, 127,122,132,125,130,120,128,135,123,126, 125,131,121,128,124,130,119,127,123,129, 126,121,129,124,140,122,127,125,131,120, 124,129,121,126,123,138,122,127,125,128, 123,128,121,126,124,130,120,127,125,129, 122,127,124,131,121,126,123,128,122,138, 125];
const hwsd_inm5_245 = [134,128,115,138,130, 127,135,123,130,126,119,133,124,128,121, 125,121,128,118,124,127,116,122,126,119, 123,117,125,120,122,115,124,119,121,117, 120,116,123,118,121,114,122,117,119,115, 119,115,121,117,120,113,118,116,122,114, 118,114,120,116,119,112,117,115,121,113, 117,113,119,115,118,112,116,114,120,113, 117,113,118,115,119,112,116,114,120,114, 116];
const hwsd_inm5_585 = [130,136,127,133,128, 131,125,129,122,127,124,119,126,121,125, 122,127,119,124,120,117,123,118,121,116, 120,115,122,118,119,113,121,116,117,114, 118,113,120,115,117,111,119,114,116,112, 116,111,118,113,115,109,117,112,114,110, 114,109,116,111,113,108,115,110,112,109, 112,108,114,110,111,106,113,109,111,107, 111,107,113,109,110,105,112,108,110,106, 109];
const hwsd_mri_126 = [138,130,142,128,135, 133,126,140,129,124,137,122,131,127,135, 128,123,132,126,120,134,125,129,121,127, 124,130,119,126,122,128,117,125,121,127, 122,118,126,120,124,116,122,119,123,117, 121,117,125,119,150,118,122,120,124,116, 120,116,123,119,121,115,133,118,122,117, 119,115,122,118,120,114,121,117,119,116, 118,114,121,117,119,113,120,116,118,115, 117];
const hwsd_mri_245 = [140,130,145,126,136, 128,135,122,132,118,138,125,130,115,127, 126,120,130,117,124,128,113,122,119,125, 121,115,124,118,112,122,116,120,110,118, 117,112,120,114,108,118,113,116,110,115, 114,109,117,111,106,115,110,113,108,112, 112,107,115,109,104,113,108,111,106,110, 111,106,113,108,104,112,107,110,105,122, 109,104,111,107,103,110,106,108,104,112, 107];
const hwsd_mri_585 = [132,138,128,140,133, 130,124,134,127,121,131,125,119,128,122, 124,118,127,120,114,123,117,121,112,119, 116,111,120,114,108,117,112,115,106,113, 110,105,114,108,102,111,106,109,100,107, 104,99,108,102,97,106,101,103,96,102, 99,94,103,97,93,101,96,98,91,97, 95,90,99,93,88,97,92,94,87,93, 91,86,95,89,84,93,88,90,83,89, 87];

// HWED (DOY)
const hwed_cmcc_126 = [240,254,236,210,262, 248,270,232,258,244,266,222,252,240,217, 260,225,271,248,256,238,266,250,276,244, 258,247,270,254,262,241,268,256,273,250, 264,255,248,270,258,266,252,262,245,269, 260,271,264,256,273,266,275,259,270,248, 267,274,262,270,258,276,268,264,272,266, 270,263,275,268,256,273,262,277,269,271, 274,266,270,278,264,275,269,272,267,276, 271];
const hwed_cmcc_245 = [250,229,262,213,245, 266,238,255,230,262,248,240,220,270,246, 241,262,250,258,246,274,252,265,244,260, 257,266,250,262,270,255,264,259,268,261, 265,272,260,268,274,263,270,266,276,287, 269,275,266,278,271,264,276,273,268,280, 274,269,279,272,282,264,277,274,271,280, 276,283,272,279,274,270,284,277,281,275, 280,274,285,278,272,283,277,281,276,286, 279];
const hwed_cmcc_585 = [230,262,248,266,236, 254,244,268,238,258,250,263,247,232,261, 256,252,264,248,268,255,236,262,258,266, 259,271,262,256,268,274,263,260,270,266, 272,264,269,276,266,281,270,267,275,279, 271,277,283,270,276,272,280,286,274,278, 282,294,275,279,284,273,281,287,277,283, 279,285,290,276,283,288,280,284,277,289, 285,281,288,292,279,286,283,290,282,287, 286];
const hwed_cnrm_126 = [262,250,270,245,266, 275,258,284,262,272,268,256,276,266,270, 270,274,265,278,268,273,262,277,271,266, 274,270,278,267,276,272,280,269,275,271, 276,280,273,278,282,274,277,279,275,281, 278,274,281,277,279,276,282,278,280,277, 280,277,283,279,281,278,282,280,284,279, 281,278,284,280,282,279,283,281,285,280, 282,279,284,280,283,281,285,280,283,282, 281];
const hwed_cnrm_245 = [268,258,275,262,281, 270,264,278,266,274,268,281,272,276,270, 277,270,281,274,268,283,276,279,272,285, 280,275,284,277,286,279,282,276,288,281, 284,279,289,282,286,280,290,284,278,288, 285,291,283,288,281,292,286,289,284,294, 288,283,292,286,290,295,284,289,293,287, 291,286,295,289,284,293,290,296,287,292, 289,295,291,286,297,292,288,294,290,296, 292];
const hwed_cnrm_585 = [255,286,262,248,270, 265,274,260,272,268,276,263,278,270,274, 279,272,283,276,270,281,277,285,274,282, 286,279,284,290,281,287,283,278,289,285, 282,291,286,280,293,288,284,290,295,287, 292,286,289,296,290,284,294,291,288,297, 293,289,298,291,295,287,300,294,290,296, 299,292,296,301,294,298,291,303,297,295, 300,296,303,298,294,301,297,305,299,302, 298];
const hwed_ec_126 = [245,258,236,252,262, 248,256,242,260,250,238,263,253,246,259, 255,247,262,240,258,251,264,245,257,261, 253,263,248,259,242,266,255,250,262,257, 258,250,265,255,246,263,257,252,267,260, 256,264,250,262,258,266,245,260,263,255, 261,257,264,252,262,248,266,258,263,256, 260,264,255,262,250,265,258,261,254,248, 262,257,265,253,261,259,264,256,262,268, 263];
const hwed_ec_245 = [248,260,242,255,265, 256,249,262,253,268,250,259,244,264,257, 261,255,268,250,264,258,270,256,262,266, 259,267,262,271,257,265,269,260,274,264, 268,261,272,266,259,270,275,263,268,273, 265,271,277,267,262,274,269,279,266,272, 276,268,273,263,280,270,266,278,272,269, 274,279,267,272,282,270,276,265,281,273, 270,284,275,268,279,273,286,271,277,281, 276];
const hwed_ec_585 = [262,238,258,244,266, 255,262,250,266,258,264,252,268,260,265, 263,270,257,266,272,261,268,264,275,262, 269,274,265,271,278,268,263,276,270,273, 277,271,266,280,274,278,270,283,275,279, 274,282,278,271,285,279,276,284,281,287, 279,286,282,277,290,284,280,288,283,292, 287,282,291,285,295,288,283,293,289,298, 291,287,296,290,285,294,299,289,293,297, 292];
const hwed_inm4_126 = [252,260,245,262,256, 258,264,250,262,256,268,253,261,271,257, 262,258,270,255,266,260,264,252,268,263, 265,259,270,262,267,257,276,264,261,269, 266,262,271,258,268,264,270,261,267,265, 268,262,270,264,252,266,269,263,267,265, 264,269,261,266,263,268,260,265,262,267, 263,258,265,261,264,259,266,260,263,257, 262,258,264,260,261,256,263,259,261,255, 262];
const hwed_inm4_245 = [252,266,237,260,258, 262,257,268,260,265,258,270,262,266,260, 266,261,271,264,258,269,265,273,262,268, 270,264,274,267,261,272,268,276,266,271, 273,266,270,277,268,274,264,272,278,269, 271,276,267,274,279,270,265,276,272,278, 268,275,271,280,273,266,277,272,274,281, 270,276,273,267,279,274,271,278,275,269, 277,272,280,268,275,273,279,270,276,282, 274];
const hwed_inm4_585 = [262,240,266,255,268, 260,266,258,270,262,267,259,272,264,269, 268,274,263,270,276,266,272,278,268,273, 275,270,279,273,268,281,276,272,279,284, 274,280,277,283,271,279,285,276,282,278, 281,276,286,279,283,274,280,287,278,284, 279,285,282,276,288,281,284,278,286,283, 280,286,283,289,277,284,281,287,282,279, 285,281,288,283,278,286,282,289,284,280, 283];
const hwed_inm5_126 = [248,258,242,255,262, 254,247,261,256,265,250,263,258,246,262, 260,266,255,263,258,268,261,264,256,266, 263,268,259,266,262,270,264,267,260,269, 265,270,262,268,264,271,266,269,263,270, 266,270,263,269,265,271,264,268,262,270, 265,269,262,268,264,270,263,267,261,268, 264,267,260,266,262,268,259,265,261,263, 260,264,256,262,258,263,255,261,257,254, 259];
const hwed_inm5_245 = [250,262,245,258,255, 258,264,252,268,260,272,256,265,248,262, 266,261,270,258,267,272,263,269,265,274, 268,273,264,271,276,266,272,269,278,270, 274,268,277,271,266,279,273,270,276,280, 272,277,269,281,274,270,278,275,282,271, 276,280,272,278,283,274,270,279,276,282, 273,279,276,284,271,278,275,281,277,272, 280,275,283,277,272,281,278,285,274,279, 277];
const hwed_inm5_585 = [258,245,262,250,264, 256,262,252,265,258,268,255,266,260,270, 267,262,272,266,270,275,264,271,268,276, 270,275,268,278,272,267,277,274,280,271, 276,281,273,279,275,283,272,278,282,276, 280,274,284,277,281,286,276,282,279,285, 277,283,280,286,278,282,288,279,284,281, 285,278,283,288,280,284,281,287,276,283, 280,286,282,278,288,283,279,285,281,287, 284];
const hwed_mri_126 = [255,268,235,262,270, 264,272,258,275,262,270,257,276,266,272, 268,275,263,272,267,276,265,273,269,277, 271,276,268,274,245,277,270,275,272,278, 273,278,271,276,274,279,272,277,275,280, 274,279,272,278,275,280,273,278,276,281, 275,280,273,279,276,281,274,279,277,282, 274,279,272,278,275,280,273,277,274,279, 272,277,270,275,273,278,271,274,269,272, 262];
const hwed_mri_245 = [258,270,254,266,262, 265,272,260,276,264,270,262,274,268,271, 273,268,277,265,274,279,270,276,268,281, 275,270,279,273,282,276,271,280,277,284, 279,274,283,277,286,280,275,284,278,288, 281,277,285,279,289,282,276,286,280,284, 278,287,282,276,285,290,280,283,288,279, 284,289,280,286,291,283,278,288,285,292, 283,287,280,290,285,282,293,286,281,289, 285];
const hwed_mri_585 = [260,248,266,255,264, 263,270,258,272,265,274,262,276,268,273, 271,278,266,275,281,270,277,273,283,275, 280,274,284,278,272,286,281,277,288,282, 285,279,290,283,287,281,293,286,282,291, 288,294,285,292,297,289,284,295,290,298, 293,289,298,292,287,300,295,291,302,296, 298,293,303,297,301,294,306,299,295,304, 301,297,306,300,304,296,309,302,298,306, 303];

const SERIES_TABLE = {
  HWF:  [[hwf_cmcc_126,hwf_cmcc_245,hwf_cmcc_585],[hwf_cnrm_126,hwf_cnrm_245,hwf_cnrm_585],[hwf_ec_126,hwf_ec_245,hwf_ec_585],[hwf_inm4_126,hwf_inm4_245,hwf_inm4_585],[hwf_inm5_126,hwf_inm5_245,hwf_inm5_585],[hwf_mri_126,hwf_mri_245,hwf_mri_585]],
  HWD:  [[hwd_cmcc_126,hwd_cmcc_245,hwd_cmcc_585],[hwd_cnrm_126,hwd_cnrm_245,hwd_cnrm_585],[hwd_ec_126,hwd_ec_245,hwd_ec_585],[hwd_inm4_126,hwd_inm4_245,hwd_inm4_585],[hwd_inm5_126,hwd_inm5_245,hwd_inm5_585],[hwd_mri_126,hwd_mri_245,hwd_mri_585]],
  HWAT: [[hwat_cmcc_126,hwat_cmcc_245,hwat_cmcc_585],[hwat_cnrm_126,hwat_cnrm_245,hwat_cnrm_585],[hwat_ec_126,hwat_ec_245,hwat_ec_585],[hwat_inm4_126,hwat_inm4_245,hwat_inm4_585],[hwat_inm5_126,hwat_inm5_245,hwat_inm5_585],[hwat_mri_126,hwat_mri_245,hwat_mri_585]],
  HWSD: [[hwsd_cmcc_126,hwsd_cmcc_245,hwsd_cmcc_585],[hwsd_cnrm_126,hwsd_cnrm_245,hwsd_cnrm_585],[hwsd_ec_126,hwsd_ec_245,hwsd_ec_585],[hwsd_inm4_126,hwsd_inm4_245,hwsd_inm4_585],[hwsd_inm5_126,hwsd_inm5_245,hwsd_inm5_585],[hwsd_mri_126,hwsd_mri_245,hwsd_mri_585]],
  HWED: [[hwed_cmcc_126,hwed_cmcc_245,hwed_cmcc_585],[hwed_cnrm_126,hwed_cnrm_245,hwed_cnrm_585],[hwed_ec_126,hwed_ec_245,hwed_ec_585],[hwed_inm4_126,hwed_inm4_245,hwed_inm4_585],[hwed_inm5_126,hwed_inm5_245,hwed_inm5_585],[hwed_mri_126,hwed_mri_245,hwed_mri_585]]
};

// ---------------- STYLE / LAYOUT ----------------
const FONT = '"Liberation Sans", Arial, Helvetica, sans-serif';
const COLORS = ['#0A58AA', '#FAB60F', '#868686'];
const BAND_ALPHA = 0.32;
const L0 = 73.5, COLW = 153, CSTEP = 162.8;
const T0 = 87.2, ROWH = 83, RSTEP = 92.8;
const STRIP_TOP = 58.5, RSTRIP_W = 24;

function rgba(hex, a) {
  const n = parseInt(hex.slice(1), 16);
  return 'rgba(' + ((n >> 16) & 255) + ',' + ((n >> 8) & 255) + ',' + (n & 255) + ',' + a + ')';
}

// loess (degree 2, tricube, span 0.75) with standard errors, like geom_smooth
function inv3FirstRow(m) {
  const a = m[0][0], b = m[0][1], c = m[0][2];
  const d = m[1][0], e = m[1][1], f = m[1][2];
  const g = m[2][0], h = m[2][1], i = m[2][2];
  const C11 = e * i - f * h, C12 = -(d * i - f * g), C13 = d * h - e * g;
  const det = a * C11 + b * C12 + c * C13;
  return [C11 / det, -(b * i - c * h) / det, (b * f - c * e) / det];
}
function loess(xs, ys, span) {
  const n = xs.length, q = Math.floor(n * span);
  function lrow(x0) {
    const d = xs.map(x => Math.abs(x - x0));
    const h = d.slice().sort((p, r) => p - r)[q - 1] * 1.000001;
    const w = new Array(n), t = new Array(n);
    const s = [0, 0, 0, 0, 0];
    for (let k = 0; k < n; k++) {
      const u = d[k] / h;
      w[k] = u < 1 ? Math.pow(1 - u * u * u, 3) : 0;
      t[k] = (xs[k] - x0) / 10;
      let p = w[k];
      for (let j = 0; j < 5; j++) { s[j] += p; p *= t[k]; }
    }
    const r = inv3FirstRow([[s[0], s[1], s[2]], [s[1], s[2], s[3]], [s[2], s[3], s[4]]]);
    return w.map((wk, k) => wk * (r[0] + r[1] * t[k] + r[2] * t[k] * t[k]));
  }
  const rows = xs.map(lrow);
  const fits = rows.map(l => l.reduce((acc, v, k) => acc + v * ys[k], 0));
  let rss = 0, delta1 = 0;
  for (let i = 0; i < n; i++) {
    rss += (ys[i] - fits[i]) * (ys[i] - fits[i]);
    for (let j = 0; j < n; j++) { const v = (i === j ? 1 : 0) - rows[i][j]; delta1 += v * v; }
  }
  const sigma = Math.sqrt(rss / delta1);
  return xs.map((x, i) => {
    const se = sigma * Math.sqrt(rows[i].reduce((acc, v) => acc + v * v, 0));
    return [x, fits[i], fits[i] - 1.99 * se, fits[i] + 1.99 * se];
  });
}

// ---------------- BUILD ----------------
const xSpan = years[years.length - 1] - years[0];
const xMin = years[0] - 0.05 * xSpan, xMax = years[years.length - 1] + 0.05 * xSpan;

const grids = [], xAxes = [], yAxes = [], series = [], graphics = [];
const colLeft = c => Math.floor(L0 + c * CSTEP) + 0.5;
const rowTop = r => Math.floor(T0 + r * RSTEP) + 0.5;
const plain = v => String(v);

indices.forEach((ind, r) => {
  models.forEach((model, c) => {
    const idx = r * models.length + c;
    grids.push({ left: colLeft(c), top: rowTop(r), width: COLW, height: ROWH, show: true,
      borderColor: '#333333', borderWidth: 1, backgroundColor: '#ffffff' });
    xAxes.push({ type: 'value', gridIndex: idx, min: xMin, max: xMax,
      splitLine: { show: false }, axisLine: { show: false },
      axisTick: { show: r === indices.length - 1, length: 4, lineStyle: { color: '#333333' }, customValues: xTickValues },
      axisLabel: { show: r === indices.length - 1, customValues: xTickValues, rotate: 45, fontSize: 16.5,
        color: '#1a1a1a', fontFamily: FONT, margin: 7, formatter: plain } });
    yAxes.push({ type: 'value', gridIndex: idx, min: yLimits[r][0], max: yLimits[r][1],
      splitLine: { show: false }, axisLine: { show: false },
      axisTick: { show: c === 0, length: 4, lineStyle: { color: '#333333' }, customValues: yTickValues[r] },
      axisLabel: { show: c === 0, customValues: yTickValues[r], fontSize: 17, color: '#1a1a1a',
        fontFamily: FONT, margin: 5, formatter: plain } });
    const arrs = SERIES_TABLE[ind][c];
    arrs.forEach((arr, s) => {
      series.push({ type: 'scatter', xAxisIndex: idx, yAxisIndex: idx, silent: true, symbolSize: 3.8,
        itemStyle: { color: COLORS[s] }, data: arr.map((v, i) => [years[i], v]) });
    });
    arrs.forEach((arr, s) => {
      const fit = loess(years.slice(0, arr.length), arr, 0.75);
      series.push({ type: 'custom', xAxisIndex: idx, yAxisIndex: idx, silent: true, clip: true,
        data: fit.map(p => [p[0], p[2], p[3]]),
        renderItem: (params, api) => {
          if (params.dataIndex !== 0) return null;
          const up = fit.map(p => api.coord([p[0], p[3]]));
          const lo = fit.map(p => api.coord([p[0], p[2]])).reverse();
          return { type: 'polygon', shape: { points: up.concat(lo) }, style: { fill: rgba(COLORS[s], BAND_ALPHA) } };
        } });
      series.push({ type: 'line', xAxisIndex: idx, yAxisIndex: idx, silent: true, showSymbol: false,
        lineStyle: { color: COLORS[s], width: 2.3 }, data: fit.map(p => [p[0], p[1]]) });
    });
    if (r === 0) {
      graphics.push({ type: 'rect', silent: true, shape: { x: colLeft(c), y: STRIP_TOP, width: COLW, height: rowTop(0) - STRIP_TOP },
        style: { fill: '#F0F0F0', stroke: '#333333', lineWidth: 1 } });
      graphics.push({ type: 'text', silent: true, x: colLeft(c) + COLW / 2, y: (STRIP_TOP + rowTop(0)) / 2,
        style: { text: model, font: '15px ' + FONT, fill: '#1a1a1a', textAlign: 'center', textVerticalAlign: 'middle' } });
    }
  });
  const right = colLeft(models.length - 1) + COLW;
  graphics.push({ type: 'rect', silent: true, shape: { x: right, y: rowTop(r), width: RSTRIP_W, height: ROWH },
    style: { fill: '#F0F0F0', stroke: '#333333', lineWidth: 1 } });
  graphics.push({ type: 'text', silent: true, x: right + RSTRIP_W / 2, y: rowTop(r) + ROWH / 2, rotation: -Math.PI / 2,
    style: { text: ind, font: '15px ' + FONT, fill: '#1a1a1a', textAlign: 'center', textVerticalAlign: 'middle' } });
  graphics.push({ type: 'text', silent: true, x: 18, y: rowTop(r) + ROWH / 2, rotation: Math.PI / 2,
    style: { text: yTitles[r], font: '15px ' + FONT, fill: '#1a1a1a', textAlign: 'center', textVerticalAlign: 'middle' } });
});

// x-axis title
graphics.push({ type: 'text', silent: true, x: colLeft(0) + (colLeft(models.length - 1) + COLW - colLeft(0)) / 2, y: 600,
  style: { text: 'Year', font: '16px ' + FONT, fill: '#1a1a1a', textAlign: 'center', textVerticalAlign: 'middle' } });

// legend
const LEG_X = 409, LEG_STEP = 104, LEG_Y = 7, KEY_W = 26, KEY_H = 24;
scenarios.forEach((name, s) => {
  const kx = LEG_X + s * LEG_STEP;
  graphics.push({ type: 'rect', silent: true, shape: { x: kx, y: LEG_Y, width: KEY_W, height: KEY_H },
    style: { fill: rgba(COLORS[s], 0.36) } });
  graphics.push({ type: 'line', silent: true, shape: { x1: kx + 2, y1: LEG_Y + KEY_H / 2, x2: kx + KEY_W - 2, y2: LEG_Y + KEY_H / 2 },
    style: { stroke: COLORS[s], lineWidth: 2.5 } });
  graphics.push({ type: 'text', silent: true, x: kx + KEY_W + 9, y: LEG_Y + KEY_H / 2,
    style: { text: name, font: '14.5px ' + FONT, fill: '#1a1a1a', textAlign: 'left', textVerticalAlign: 'middle' } });
});

const chart = echarts.init(document.getElementById('main'), null, { renderer: 'canvas' });
chart.setOption({
  animation: false,
  backgroundColor: '#ffffff',
  grid: grids, xAxis: xAxes, yAxis: yAxes, series: series,
  graphic: { elements: graphics }
});
</script></body></html>
